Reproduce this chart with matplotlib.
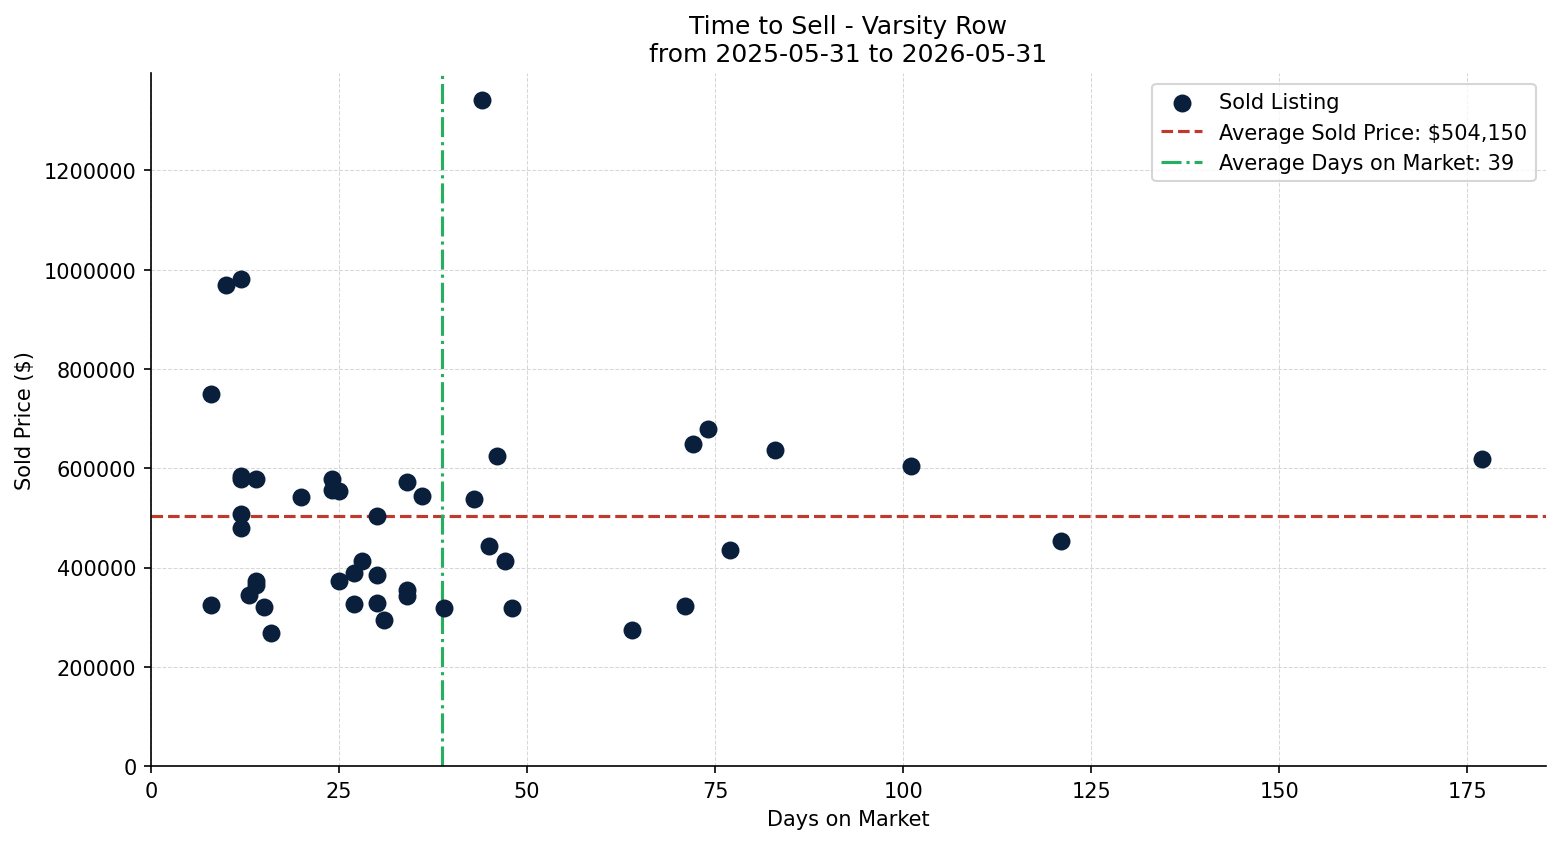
import matplotlib
matplotlib.use("Agg")
import matplotlib.pyplot as plt

# sold listings
days_on_market = [8, 8, 10, 12, 12, 12, 12, 12, 13, 14, 14, 14, 15, 16, 20,
                  24, 24, 25, 25, 27, 27, 28, 30, 30, 30, 31, 34, 34, 34, 36,
                  39, 43, 44, 45, 46, 47, 48, 64, 71, 72, 74, 77, 83, 101, 121, 177]
sold_price = [750000, 325000, 970000, 982000, 585000, 579000, 508000, 480000, 344000, 579000, 372000, 365000, 321000, 269000, 543000,
              578000, 557000, 555000, 372000, 389000, 327000, 414000, 504000, 384000, 329000, 295000, 573000, 354000, 342000, 545000,
              319000, 538000, 1342000, 444000, 625000, 414000, 319000, 275000, 322000, 649000, 679000, 435000, 637000, 605000, 454000, 619000]

avg_price = 504150
avg_days = 38.7

fig, ax = plt.subplots(figsize=(10.4, 5.633), dpi=150)

ax.scatter(days_on_market, sold_price, s=58, color='#0a1f3c', label='Sold Listing', zorder=3)
ax.axhline(avg_price, color='#c0392b', linestyle='--', linewidth=1.5,
           label='Average Sold Price: ${:,.0f}'.format(avg_price))
ax.axvline(avg_days, color='#27ae60', linestyle='-.', linewidth=1.5,
           label='Average Days on Market: {:.0f}'.format(avg_days))

ax.set_xlim(0, None)
ax.set_ylim(0, None)
ax.ticklabel_format(style='plain', axis='y')

ax.set_title('Time to Sell - Varsity Row\nfrom 2025-05-31 to 2026-05-31', fontsize=12)
ax.set_xlabel('Days on Market')
ax.set_ylabel('Sold Price ($)')
ax.grid(True, linestyle='--', linewidth=0.5, alpha=0.5)
ax.spines['top'].set_visible(False)
ax.spines['right'].set_visible(False)
ax.legend(loc='upper right')

plt.subplots_adjust(left=0.0968, right=0.991, top=0.912, bottom=0.0923)
plt.savefig('out.png', dpi=150)
